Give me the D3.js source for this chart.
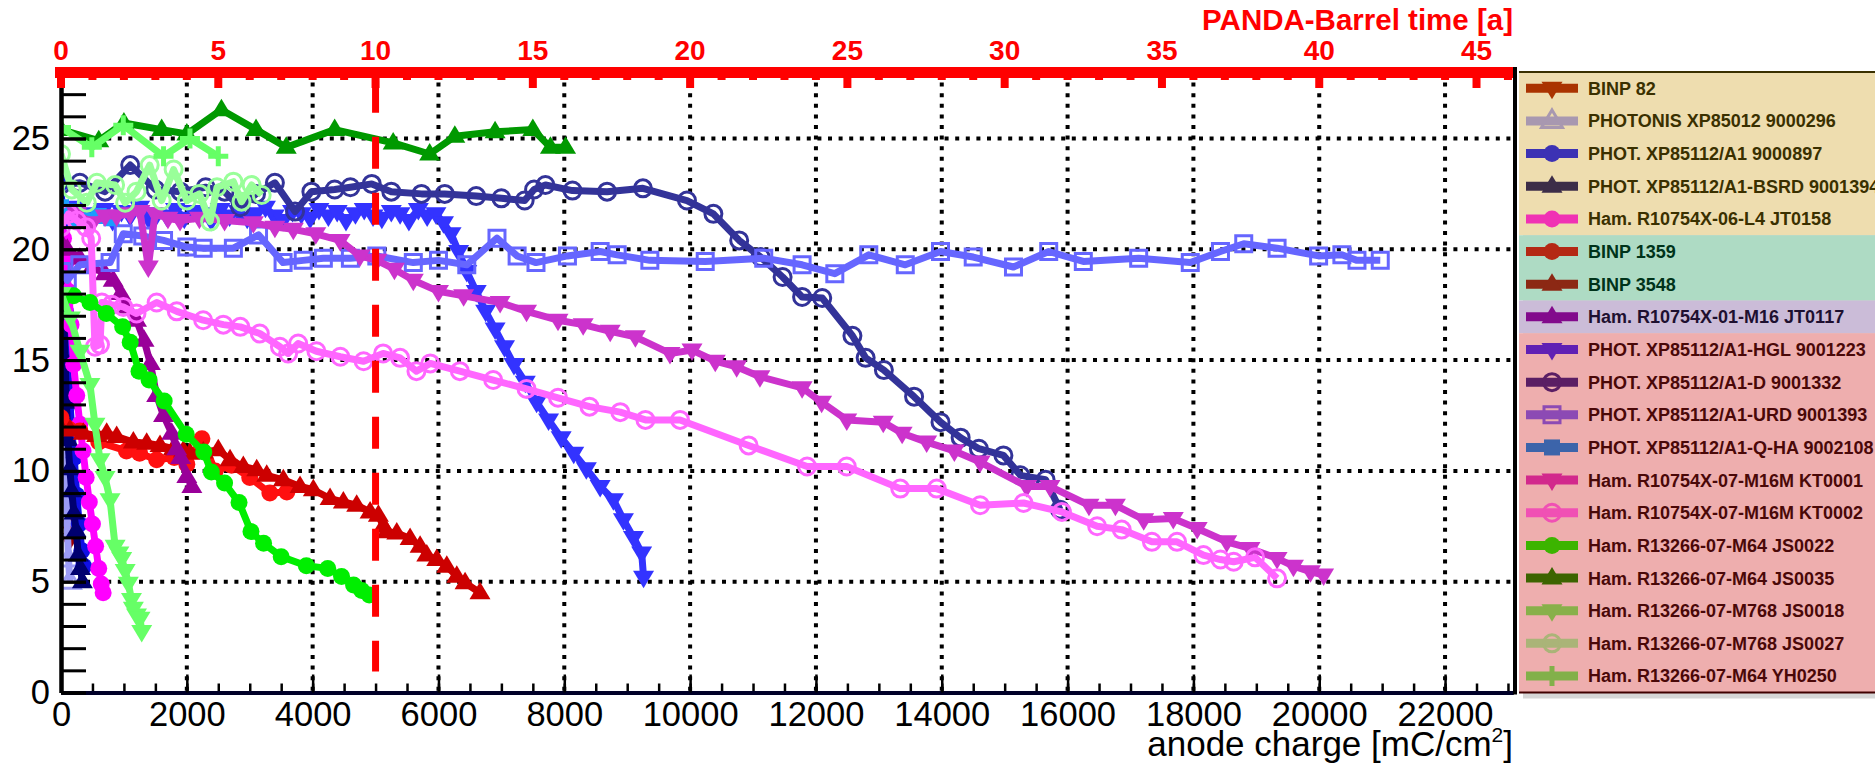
<!DOCTYPE html>
<html>
<head>
<meta charset="utf-8">
<script src="https://cdn.jsdelivr.net/npm/d3@7"></script>
<style>
  body { margin: 0; background: #fff; }
  svg { display: block; font-family: "Liberation Sans", Arial, sans-serif; }
</style>
</head>
<body>
<svg id="drawing_region"></svg>
<script>
// ---- data (x: anode charge mC/cm^2, y: QE %) ----
const seriesNames = [
  "BINP 82", "PHOTONIS XP85012 9000296", "PHOT. XP85112/A1 9000897",
  "PHOT. XP85112/A1-BSRD 9001394", "Ham. R10754X-06-L4 JT0158",
  "BINP 1359", "BINP 3548", "Ham. R10754X-01-M16 JT0117",
  "PHOT. XP85112/A1-HGL 9001223", "PHOT. XP85112/A1-D 9001332",
  "PHOT. XP85112/A1-URD 9001393", "PHOT. XP85112/A1-Q-HA 9002108",
  "Ham. R10754X-07-M16M KT0001", "Ham. R10754X-07-M16M KT0002",
  "Ham. R13266-07-M64 JS0022", "Ham. R13266-07-M64 JS0035",
  "Ham. R13266-07-M768 JS0018", "Ham. R13266-07-M768 JS0027",
  "Ham. R13266-07-M64 YH0250",
];

const binp82X = [0, 20, 35, 50, 65, 80, 95, 110, 125, 140];
const binp82Y = [14.8, 13.9, 12.7, 12.1, 10.9, 10.2, 9.1, 8.6, 7.5, 6.9];

const xp85012X = [0, 15, 30, 45, 60, 80, 100, 120, 140];
const xp85012Y = [18.6, 16.8, 14.9, 13.1, 11.2, 9.3, 7.4, 6.0, 5.0];

const a1X = [0, 25, 45, 70, 100, 130, 170, 210, 250, 290, 330, 360];
const a1Y = [23.0, 21.3, 19.1, 17.2, 15.1, 13.6, 11.9, 10.6, 8.9, 7.6, 6.4, 5.7];

const bsrdX = [0, 20, 45, 65, 85, 110, 140, 170, 205, 240, 275, 310, 340];
const bsrdY = [21.6, 19.1, 16.8, 15.0, 13.1, 11.4, 10.1, 9.1, 8.1, 7.3, 6.2, 5.6, 5.0];

const jt0158X = [0, 40, 80, 120, 160, 200, 250, 300, 350, 400, 450, 500, 550, 600, 640, 670];
const jt0158Y = [21.6, 20.5, 19.4, 18.1, 16.6, 14.8, 13.4, 12.1, 10.9, 9.7, 8.6, 7.6, 6.6, 5.6, 4.9, 4.5];

const binp1359X = [0, 300, 600, 1040, 1250, 1520, 1800, 2000, 2240, 2450, 2710, 3000, 3320, 3590];
const binp1359Y = [12.4, 11.8, 11.3, 10.9, 10.8, 10.5, 10.6, 10.3, 11.45, 10.0, 10.25, 9.7, 9.0, 9.05];

const binp3548X = [0, 143, 355, 567, 726, 885, 1150, 1362, 1574, 1786, 1945, 2050, 2262, 2500, 2687, 2898, 3111,
  3270, 3534, 3800, 4011, 4277, 4488, 4700, 4913, 5045, 5124, 5178, 5337, 5549, 5708, 5814, 5973, 6132,
  6291, 6423, 6660];
const binp3548Y = [11.9, 11.85, 11.7, 11.6, 11.7, 11.55, 11.3, 11.25, 11.15, 11.0, 10.9, 10.8, 10.85, 10.95, 10.5, 10.2, 10.05,
  9.8, 9.6, 9.3, 9.15, 8.75, 8.6, 8.45, 8.15, 8.0, 7.5, 7.25, 7.2, 6.95, 6.6, 6.2, 6.0, 5.7,
  5.25, 4.95, 4.5];

const jt0117X = [0, 100, 300, 500, 700, 830, 950, 1040, 1200, 1320, 1420, 1520, 1630, 1760, 1840, 1900, 2000, 2080];
const jt0117Y = [20.3, 20.0, 19.6, 19.2, 18.9, 18.6, 18.0, 17.4, 16.8, 15.9, 14.85, 13.4, 12.5, 11.7, 11.0, 10.6, 9.75, 9.3];

const hglX = [0, 120, 260, 400, 530, 680, 820, 960, 1100, 1250, 1390, 1530, 1680, 1820, 1960, 2100, 2250, 2390,
  2530, 2680, 2820, 2960, 3100, 3250, 3390, 3530, 3680, 3820, 3960, 4100, 4250, 4390, 4530, 4680, 4820, 4960,
  5100, 5250, 5390, 5530, 5680, 5820, 5960, 6080, 6200, 6320, 6450, 6600, 6750, 6900, 7050, 7200, 7380, 7560,
  7750, 7950, 8150, 8350, 8570, 8780, 8940, 9100, 9230, 9260];
const hglY = [21.7, 21.5, 21.9, 21.4, 21.6, 21.8, 21.3, 21.7, 21.5, 21.9, 21.4, 21.6, 21.5, 21.8, 21.4, 21.7, 21.6, 21.3,
  21.8, 21.5, 21.7, 21.4, 21.6, 21.9, 21.5, 21.3, 21.7, 21.6, 21.4, 21.8, 21.5, 21.7, 21.3, 21.6, 21.8, 21.5,
  21.4, 21.7, 21.6, 21.3, 21.8, 21.5, 21.6, 21.2, 20.7, 19.9, 19.0, 18.1, 17.2, 16.4, 15.6, 14.8, 14.0, 13.1,
  12.3, 11.5, 10.8, 10.1, 9.3, 8.7, 7.8, 7.0, 6.3, 5.2];

const dX = [0, 300, 700, 1100, 1500, 1900, 2300, 2600, 2850, 3100, 3400, 3720, 3980, 4350, 4600, 4940, 5250, 5730,
  6100, 6600, 7000, 7370, 7520, 7700, 8130, 8680, 9250, 9950, 10370, 10780, 11120, 11470, 11780, 12100, 12580,
  12790, 13080, 13560, 13980, 14300, 14590, 14980, 15250, 15650, 15880];
const dY = [22.9, 23.0, 22.6, 23.8, 22.7, 22.6, 22.8, 22.6, 21.9, 22.5, 23.0, 21.7, 22.6, 22.7, 22.8, 22.95, 22.6, 22.5,
  22.5, 22.4, 22.3, 22.2, 22.7, 22.9, 22.65, 22.6, 22.75, 22.2, 21.6, 20.4, 19.65, 18.75, 17.85, 17.8, 16.1,
  15.1, 14.55, 13.35, 12.2, 11.5, 11.0, 10.7, 9.8, 9.6, 8.25];

const urdX = [0, 100, 300, 780, 990, 1300, 1630, 2000, 2260, 2740, 3140, 3530, 3850, 4170, 4600, 5020, 5600, 6000,
  6450, 6930, 7250, 7550, 8050, 8570, 8840, 9360, 10240, 11170, 11780, 12300, 12840, 13420, 13980, 14500, 15140,
  15700, 16250, 17130, 17950, 18430, 18800, 19330, 19990, 20360, 20600, 20970];
const urdY = [19.0, 18.6, 19.3, 19.4, 20.7, 20.6, 20.4, 20.1, 20.05, 20.05, 20.65, 19.4, 19.5, 19.6, 19.6, 19.7, 19.4, 19.5,
  19.3, 20.5, 19.7, 19.4, 19.7, 19.9, 19.75, 19.5, 19.45, 19.6, 19.3, 18.9, 19.75, 19.3, 19.9, 19.65, 19.2,
  19.9, 19.45, 19.6, 19.4, 19.9, 20.25, 20.05, 19.7, 19.75, 19.5, 19.5];

const qhaX = [0, 40, 120, 250, 400, 600, 800];
const qhaY = [21.9, 21.5, 21.7, 21.4, 21.3, 21.5, 21.4];

const kt0001X = [0, 250, 500, 700, 885, 1100, 1256, 1388, 1494, 1700, 1892, 2200, 2600, 3058, 3400, 3693, 4050, 4436,
  4753, 5020, 5300, 5600, 6000, 6400, 6980, 7400, 7900, 8300, 8730, 9130, 9680, 10030, 10400, 10740, 11110,
  11780, 12090, 12490, 13070, 13370, 13760, 14200, 14610, 15350, 15720, 16340, 16760, 17210, 17680, 18060,
  18530, 18900, 19330, 19590, 19860, 20070];
const kt0001Y = [21.3, 21.6, 21.2, 21.5, 21.5, 21.6, 21.7, 19.2, 21.6, 21.4, 21.3, 21.4, 21.3, 21.2, 21.0, 20.9, 20.7, 20.4,
  19.7, 19.5, 19.1, 18.6, 18.1, 17.9, 17.6, 17.2, 16.8, 16.6, 16.3, 16.05, 15.3, 15.45, 14.95, 14.7, 14.25,
  13.75, 13.1, 12.3, 12.2, 11.7, 11.3, 10.9, 10.4, 9.3, 9.3, 8.45, 8.45, 7.8, 7.85, 7.4,
  6.8, 6.5, 6.05, 5.7, 5.45, 5.3];

const kt0002X = [0, 120, 250, 400, 480, 540, 620, 650, 806, 990, 1200, 1520, 1840, 2260, 2580, 2850, 3160, 3480, 3610,
  3770, 4060, 4440, 4810, 5120, 5390, 5650, 5870, 6340, 6870, 7400, 7900, 8400, 8890, 9290, 9840, 10930, 11860,
  12490, 13340, 13920, 14610, 15300, 15910, 16470, 16860, 17340, 17740, 18160, 18430, 18640, 18980, 19330];
const kt0002Y = [21.0, 21.6, 21.3, 21.0, 20.5, 15.6, 15.7, 17.6, 17.5, 17.4, 17.1, 17.6, 17.2, 16.8, 16.6, 16.5, 16.2, 15.6, 15.3,
  15.75, 15.4, 15.15, 14.95, 15.3, 15.1, 14.5, 14.85, 14.5, 14.1, 13.7, 13.3, 12.9, 12.65, 12.3, 12.3, 11.15, 10.2,
  10.2, 9.2, 9.2, 8.45, 8.55, 8.15, 7.5, 7.35, 6.8, 6.8, 6.2, 6.0, 5.9, 6.1, 5.15];

const js0022X = [0, 200, 460, 720, 980, 1100, 1240, 1400, 1640, 1990, 2270, 2390, 2600, 2830, 3020, 3220, 3500, 3900,
  4240, 4460, 4650, 4780, 4900];
const js0022Y = [17.6, 17.9, 17.6, 17.1, 16.5, 15.8, 14.5, 14.1, 13.15, 11.65, 10.85, 9.95, 9.45, 8.57, 7.26, 6.73, 6.13, 5.72,
  5.6, 5.23, 4.85, 4.6, 4.4];

const js0035X = [0, 600, 1000, 1600, 2000, 2550, 3100, 3580, 4350, 5280, 5860, 6260, 6900, 7500, 7780, 8020];
const js0035Y = [25.4, 24.9, 25.7, 25.4, 25.2, 26.3, 25.4, 24.6, 25.4, 24.8, 24.3, 25.1, 25.3, 25.4, 24.6, 24.6];

const js0018X = [0, 150, 300, 460, 540, 620, 700, 780, 860, 920, 965, 1020, 1070, 1120, 1150, 1200, 1256, 1283];
const js0018Y = [18.0, 16.9, 15.4, 13.9, 12.1, 10.5, 9.7, 8.7, 6.6, 6.3, 6.05, 5.5, 4.93, 4.2, 3.8, 3.5, 3.35, 2.75];

const js0027X = [0, 170, 410, 570, 860, 1020, 1200, 1410, 1600, 1790, 2000, 2200, 2370, 2480, 2740, 2870, 3030, 3190];
const js0027Y = [24.3, 22.7, 22.1, 23.0, 22.9, 22.1, 22.6, 23.8, 22.2, 23.6, 22.2, 22.5, 21.25, 22.8, 23.05, 22.15, 22.9, 22.45];

const yh0250X = [0, 490, 990, 1630, 2050, 2500];
const yh0250Y = [25.5, 24.6, 25.6, 24.2, 25.0, 24.2];

const seriesX = [binp82X, xp85012X, a1X, bsrdX, jt0158X, binp1359X, binp3548X, jt0117X, hglX, dX,
  urdX, qhaX, kt0001X, kt0002X, js0022X, js0035X, js0018X, js0027X, yh0250X];
const seriesY = [binp82Y, xp85012Y, a1Y, bsrdY, jt0158Y, binp1359Y, binp3548Y, jt0117Y, hglY, dY,
  urdY, qhaY, kt0001Y, kt0002Y, js0022Y, js0035Y, js0018Y, js0027Y, yh0250Y];

const xTickLabels = [0, 2000, 4000, 6000, 8000, 10000, 12000, 14000, 16000, 18000, 20000, 22000];
const yTickLabels = [0, 5, 10, 15, 20, 25];
const yearTickLabels = [0, 5, 10, 15, 20, 25, 30, 35, 40, 45];
const legendGroups = [5, 2, 1, 11];   // rows per coloured legend block
const chargePerYear = 500;            // mC/cm^2 per PANDA year
const limitYears = 10;

// ---- styles ----
const markers = ["td", "tu", "c", "tu", "c", "c", "tu", "tu", "td", "c", "s", "s", "td", "c", "c", "tu", "td", "c", "p"];
const openMarker = [false, true, false, false, false, false, false, false, false, true, true, false, false, true, false, false, false, true, false];
const colors = ["#a00000", "#9b9bf5", "#1010e6", "#000070", "#ff00ff", "#ff1010", "#cc0000", "#990099", "#3333ff",
  "#333399", "#6666ff", "#1a9cff", "#cc33cc", "#ff66ff", "#00ee00", "#009900", "#66ff66", "#99ff99", "#66ff66"];
const legendColors = ["#aa3300", "#a898b0", "#3c32b4", "#3c2d48", "#f032b4", "#b42814", "#8c2814", "#820a8c", "#6020b4",
  "#5a1e64", "#8c4ab4", "#3c64aa", "#d2288c", "#f050b4", "#3cb400", "#3c6400", "#88b04a", "#aab478", "#82b04a"];
const groupFill = ["#eeddaf", "#aedbc4", "#cbbcd8", "#eeaeae"];
const groupText = ["#3a3000", "#00331a", "#1e1030", "#4a0808"];

function markerPath(kind) {
  switch (kind) {
    case "tu": return "M0,-11L10.5,6.5L-10.5,6.5Z";
    case "td": return "M0,11L10.5,-6.5L-10.5,-6.5Z";
    case "s": return "M-8,-8H8V8H-8Z";
    case "p": return "M-10,0H10M0,-10V10";
    default: return d3.symbol(d3.symbolCircle, Math.PI * 8.5 * 8.5)();
  }
}

function styleMarker(sel, i, palette) {
  if (markers[i] === "p") {
    sel.attr("fill", "none").attr("stroke", palette[i]).attr("stroke-width", 5);
  } else if (openMarker[i]) {
    sel.attr("fill", "none").attr("stroke", palette[i]).attr("stroke-width", 3);
  } else {
    sel.attr("fill", palette[i]).attr("stroke", "none");
  }
}

const W = 1875, H = 763;
const pLeft = 61, pRight = 1513, pTop = 72, pBottom = 692.5;
const xMax = 23080, yMax = 28;

const svg = d3.select("#drawing_region").attr("width", W).attr("height", H);

const x = d3.scaleLinear().domain([0, xMax]).range([pLeft, pRight]);
const y = d3.scaleLinear().domain([0, yMax]).range([pBottom, pTop]);
const years = d3.scaleLinear().domain([0, xMax / chargePerYear]).range([pLeft, pRight]);

svg.append("defs").append("clipPath").attr("id", "plotclip")
  .append("rect").attr("x", pLeft).attr("y", pTop).attr("width", pRight - pLeft).attr("height", pBottom - pTop);

// grid
const grid = svg.append("g").attr("stroke", "#000").attr("stroke-width", 4).attr("stroke-dasharray", "4 6.6");
grid.selectAll(".gx").data(xTickLabels.filter((d) => d > 0)).join("line").attr("class", "gx")
  .attr("x1", (d) => x(d)).attr("x2", (d) => x(d)).attr("y1", pTop).attr("y2", pBottom);
grid.selectAll(".gy").data(yTickLabels.filter((d) => d > 0)).join("line").attr("class", "gy")
  .attr("x1", pLeft + 25).attr("x2", pRight).attr("y1", (d) => y(d)).attr("y2", (d) => y(d));

// data
const plot = svg.append("g").attr("clip-path", "url(#plotclip)");
const line = d3.line().x((d) => x(d[0])).y((d) => y(d[1]));

seriesNames.forEach((name, i) => {
  const pts = d3.zip(seriesX[i], seriesY[i]);
  const g = plot.append("g");
  g.append("path").datum(pts).attr("d", line)
    .attr("fill", "none").attr("stroke", colors[i]).attr("stroke-width", 7)
    .attr("stroke-linejoin", "round");
  g.selectAll("path.m").data(pts).join("path").attr("class", "m")
    .attr("transform", (d) => `translate(${x(d[0])},${y(d[1])})`)
    .attr("d", markerPath(markers[i]))
    .call(styleMarker, i, colors);
});

// end-of-life line at 10 years
svg.append("line")
  .attr("x1", x(limitYears * chargePerYear)).attr("x2", x(limitYears * chargePerYear))
  .attr("y1", y(27.6)).attr("y2", y(0.95))
  .attr("stroke", "#ff0000").attr("stroke-width", 7).attr("stroke-dasharray", "32 24");

// bottom axis
const xAxis = d3.axisBottom(x).tickValues(xTickLabels).tickFormat(d3.format("d"))
  .tickSize(-18).tickPadding(9).tickSizeOuter(0);
const xMinor = d3.axisBottom(x).tickValues(d3.range(0, 23001, 500)).tickSize(-9).tickFormat("").tickSizeOuter(0);
const gxMinor = svg.append("g").attr("transform", `translate(0,${pBottom})`).call(xMinor);
const gx = svg.append("g").attr("transform", `translate(0,${pBottom})`).call(xAxis);
[gx, gxMinor].forEach((g) => {
  g.select(".domain").attr("stroke", "#000028").attr("stroke-width", 4);
  g.selectAll(".tick line").attr("stroke", "#000").attr("stroke-width", 2.5);
});
gx.selectAll("text").attr("font-size", 34.5).attr("fill", "#000");

// left axis
const yAxis = d3.axisLeft(y).tickValues(yTickLabels).tickSize(-25).tickPadding(11).tickSizeOuter(0);
const yMinor = d3.axisLeft(y).tickValues(d3.range(0, 28, 1)).tickSize(-25).tickFormat("").tickSizeOuter(0);
const gyMinor = svg.append("g").attr("transform", `translate(${pLeft},0)`).call(yMinor);
const gy = svg.append("g").attr("transform", `translate(${pLeft},0)`).call(yAxis);
[gy, gyMinor].forEach((g) => {
  g.select(".domain").attr("stroke", "#000").attr("stroke-width", 4);
  g.selectAll(".tick line").attr("stroke", "#000").attr("stroke-width", 3);
});
gy.selectAll("text").attr("font-size", 34.5).attr("fill", "#000");

// right frame
svg.append("line").attr("x1", pRight + 2).attr("x2", pRight + 2).attr("y1", pTop - 5).attr("y2", pBottom + 2)
  .attr("stroke", "#000").attr("stroke-width", 4);

// top axis (PANDA years)
const topG = svg.append("g");
topG.append("rect").attr("x", pLeft - 6).attr("y", pTop - 5).attr("width", pRight - pLeft + 6).attr("height", 11)
  .attr("fill", "#ff0000");
topG.selectAll(".ty").data(d3.range(0, 47, 1)).join("line").attr("class", "ty")
  .attr("x1", (d) => years(d)).attr("x2", (d) => years(d))
  .attr("y1", pTop - 5).attr("y2", (d) => (d % 5 === 0 ? pTop + 16 : pTop + 8))
  .attr("stroke", "#ff0000").attr("stroke-width", 8);
topG.selectAll(".tl").data(yearTickLabels).join("text").attr("class", "tl")
  .attr("x", (d) => years(d)).attr("y", pTop - 12)
  .attr("text-anchor", "middle").attr("font-size", 28).attr("font-weight", "bold").attr("fill", "#ff0000")
  .text((d) => d);
svg.append("text").attr("x", pRight).attr("y", 30).attr("text-anchor", "end")
  .attr("font-size", 29.5).attr("font-weight", "bold").attr("fill", "#ff0000")
  .text("PANDA-Barrel time [a]");

// x title
const xt = svg.append("text").attr("x", pRight).attr("y", 756).attr("text-anchor", "end")
  .attr("font-size", 35).attr("fill", "#000");
xt.append("tspan").text("anode charge [mC/cm");
xt.append("tspan").attr("font-size", 21).attr("dy", -14).text("2");
xt.append("tspan").attr("dy", 14).text("]");

// legend
const lx = 1519, rowH = 32.65, row0 = 88.3;
const legend = svg.append("g");
legend.append("rect").attr("x", lx + 4).attr("y", pTop + 4).attr("width", W).attr("height", pBottom - pTop + 2)
  .attr("fill", "#bbb").attr("opacity", 0.6);
let start = 0;
legendGroups.forEach((n, gi) => {
  const y0 = start === 0 ? pTop : row0 + (start - 0.5) * rowH;
  const y1 = start + n === seriesNames.length ? pBottom : row0 + (start + n - 0.5) * rowH;
  legend.append("rect").attr("x", lx).attr("y", y0).attr("width", W - lx).attr("height", y1 - y0)
    .attr("fill", groupFill[gi]);
  for (let i = start; i < start + n; i++) {
    const cy = row0 + i * rowH;
    legend.append("line").attr("x1", lx + 7).attr("x2", lx + 59).attr("y1", cy).attr("y2", cy)
      .attr("stroke", legendColors[i]).attr("stroke-width", 9);
    legend.append("path").attr("transform", `translate(${lx + 33},${cy})`)
      .attr("d", markerPath(markers[i]))
      .call(styleMarker, i, legendColors);
    legend.append("text").attr("x", lx + 69).attr("y", cy).attr("dy", "0.36em")
      .attr("font-size", 18).attr("font-weight", "bold").attr("fill", groupText[gi])
      .text(seriesNames[i]);
  }
  start += n;
});
legend.append("line").attr("x1", lx).attr("x2", W).attr("y1", pTop).attr("y2", pTop)
  .attr("stroke", "#3a3000").attr("stroke-width", 2);
legend.append("line").attr("x1", lx).attr("x2", W).attr("y1", pBottom).attr("y2", pBottom)
  .attr("stroke", "#400000").attr("stroke-width", 2);
</script>
</body>
</html>
